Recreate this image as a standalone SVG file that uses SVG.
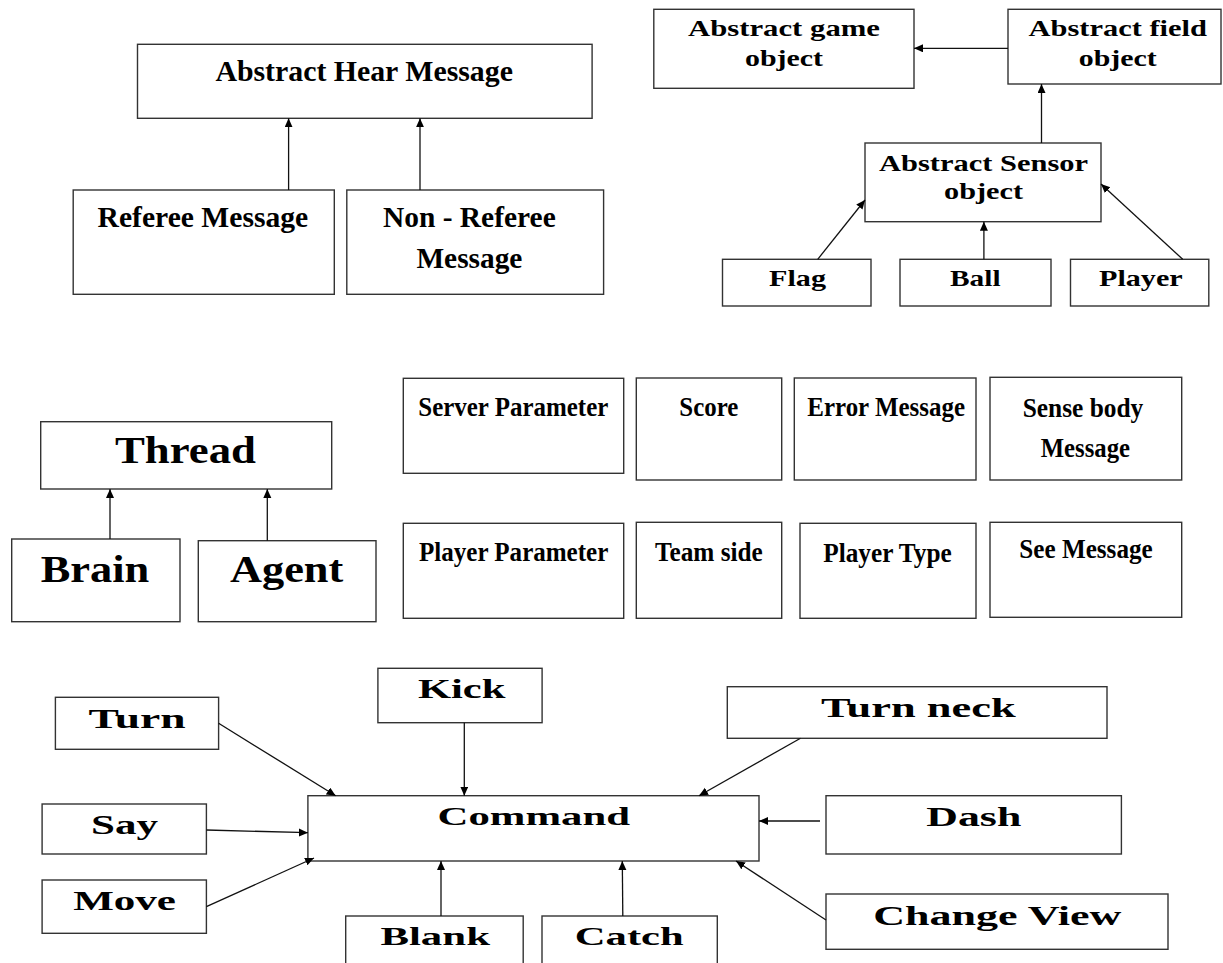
<svg xmlns="http://www.w3.org/2000/svg" width="1223" height="963" viewBox="0 0 1223 963">
<style>
.b{fill:#fff;stroke:#333;stroke-width:1.4}
.t{font-family:"Liberation Serif","Times New Roman",serif;font-weight:bold;fill:#000}
.c line{stroke:#111;stroke-width:1.3;marker-end:url(#ah)}
</style>
<defs>
<marker id="ah" markerUnits="userSpaceOnUse" markerWidth="10" markerHeight="9" refX="9" refY="4" orient="auto">
<path d="M0,0 L9,4 L0,8 z" fill="#000"/>
</marker>
</defs>
<rect width="1223" height="963" fill="#fff"/>
<g id="hear"><rect class="b" x="137.5" y="44.3" width="454.6" height="74"/><text class="t" x="215.4" y="80.7" font-size="30" textLength="297.5" lengthAdjust="spacingAndGlyphs">Abstract Hear Message</text></g>
<g id="referee"><rect class="b" x="73.2" y="190" width="261.1" height="104.3"/><text class="t" x="97.5" y="226.7" font-size="29" textLength="210.7" lengthAdjust="spacingAndGlyphs">Referee Message</text></g>
<g id="nonreferee"><rect class="b" x="346.8" y="190" width="256.8" height="104.3"/><text class="t" x="383" y="226.7" font-size="29" textLength="172.7" lengthAdjust="spacingAndGlyphs">Non - Referee</text><text class="t" x="416.4" y="268.3" font-size="29" textLength="106" lengthAdjust="spacingAndGlyphs">Message</text></g>
<g id="game"><rect class="b" x="653.8" y="9.3" width="260.2" height="79"/><text class="t" x="688" y="36" font-size="23" textLength="192" lengthAdjust="spacingAndGlyphs">Abstract game</text><text class="t" x="745" y="65.7" font-size="23" textLength="78" lengthAdjust="spacingAndGlyphs">object</text></g>
<g id="field"><rect class="b" x="1008" y="9.3" width="213" height="74.7"/><text class="t" x="1028.5" y="36" font-size="23" textLength="178.5" lengthAdjust="spacingAndGlyphs">Abstract field</text><text class="t" x="1078.7" y="65.7" font-size="23" textLength="78" lengthAdjust="spacingAndGlyphs">object</text></g>
<g id="sensor"><rect class="b" x="865" y="143" width="236" height="78.7"/><text class="t" x="879" y="170.7" font-size="23" textLength="209" lengthAdjust="spacingAndGlyphs">Abstract Sensor</text><text class="t" x="944" y="199" font-size="23" textLength="79" lengthAdjust="spacingAndGlyphs">object</text></g>
<g id="flag"><rect class="b" x="722.5" y="259.3" width="148.5" height="46.7"/><text class="t" x="769" y="286" font-size="24" textLength="57" lengthAdjust="spacingAndGlyphs">Flag</text></g>
<g id="ball"><rect class="b" x="900" y="259.3" width="151" height="46.7"/><text class="t" x="950" y="286" font-size="24" textLength="50.6" lengthAdjust="spacingAndGlyphs">Ball</text></g>
<g id="player"><rect class="b" x="1070.5" y="259.3" width="138.3" height="46.7"/><text class="t" x="1099" y="286" font-size="24" textLength="83.7" lengthAdjust="spacingAndGlyphs">Player</text></g>
<g id="thread"><rect class="b" x="40.7" y="421.7" width="291" height="67.3"/><text class="t" x="115" y="463.3" font-size="38" textLength="141" lengthAdjust="spacingAndGlyphs">Thread</text></g>
<g id="brain"><rect class="b" x="11.7" y="539" width="168.3" height="82.7"/><text class="t" x="40.7" y="581.7" font-size="38" textLength="108.6" lengthAdjust="spacingAndGlyphs">Brain</text></g>
<g id="agent"><rect class="b" x="198.3" y="540.7" width="177.7" height="81"/><text class="t" x="230" y="581.7" font-size="38" textLength="113.3" lengthAdjust="spacingAndGlyphs">Agent</text></g>
<g id="serverparam"><rect class="b" x="403.3" y="378.3" width="220.4" height="95"/><text class="t" x="418.3" y="415.7" font-size="27" textLength="190" lengthAdjust="spacingAndGlyphs">Server Parameter</text></g>
<g id="score"><rect class="b" x="636.3" y="378" width="145.4" height="102"/><text class="t" x="679.3" y="415.7" font-size="27" textLength="59" lengthAdjust="spacingAndGlyphs">Score</text></g>
<g id="errormsg"><rect class="b" x="794.3" y="378" width="181.7" height="102"/><text class="t" x="807.3" y="415.7" font-size="27" textLength="157.7" lengthAdjust="spacingAndGlyphs">Error Message</text></g>
<g id="sensebody"><rect class="b" x="990" y="377.3" width="191.7" height="102.7"/><text class="t" x="1022.7" y="416.7" font-size="27" textLength="120.6" lengthAdjust="spacingAndGlyphs">Sense body</text><text class="t" x="1040.7" y="457.3" font-size="27" textLength="89.3" lengthAdjust="spacingAndGlyphs">Message</text></g>
<g id="playerparam"><rect class="b" x="403.3" y="523.3" width="220.4" height="95"/><text class="t" x="419" y="560.7" font-size="27" textLength="189.3" lengthAdjust="spacingAndGlyphs">Player Parameter</text></g>
<g id="teamside"><rect class="b" x="636.3" y="522.3" width="145.4" height="96"/><text class="t" x="655" y="560.7" font-size="27" textLength="107.7" lengthAdjust="spacingAndGlyphs">Team side</text></g>
<g id="playertype"><rect class="b" x="800" y="523.3" width="176" height="95"/><text class="t" x="823.3" y="561.7" font-size="27" textLength="128.4" lengthAdjust="spacingAndGlyphs">Player Type</text></g>
<g id="seemsg"><rect class="b" x="990" y="522.3" width="191.7" height="95"/><text class="t" x="1019.3" y="558.3" font-size="27" textLength="133.4" lengthAdjust="spacingAndGlyphs">See Message</text></g>
<g id="turn"><rect class="b" x="55.4" y="697.3" width="163.2" height="52"/><text class="t" x="88.6" y="728.3" font-size="28" textLength="97.1" lengthAdjust="spacingAndGlyphs">Turn</text></g>
<g id="kick"><rect class="b" x="377.9" y="668.3" width="164.2" height="54.4"/><text class="t" x="417.9" y="698.3" font-size="27" textLength="87.5" lengthAdjust="spacingAndGlyphs">Kick</text></g>
<g id="command"><rect class="b" x="307.9" y="795.7" width="451.1" height="65.3"/><text class="t" x="437.5" y="825" font-size="25" textLength="192.5" lengthAdjust="spacingAndGlyphs">Command</text></g>
<g id="say"><rect class="b" x="42.1" y="804" width="164.3" height="50"/><text class="t" x="91" y="834" font-size="27" textLength="66.9" lengthAdjust="spacingAndGlyphs">Say</text></g>
<g id="move"><rect class="b" x="42.1" y="880" width="164.3" height="53.3"/><text class="t" x="73.2" y="910" font-size="27" textLength="102.8" lengthAdjust="spacingAndGlyphs">Move</text></g>
<g id="blank"><rect class="b" x="345.7" y="916" width="177.5" height="60"/><text class="t" x="380.4" y="945" font-size="26" textLength="109.6" lengthAdjust="spacingAndGlyphs">Blank</text></g>
<g id="catch"><rect class="b" x="542" y="916" width="175.3" height="60"/><text class="t" x="574.8" y="945" font-size="26" textLength="108.9" lengthAdjust="spacingAndGlyphs">Catch</text></g>
<g id="turnneck"><rect class="b" x="727.3" y="686.7" width="379.7" height="51.6"/><text class="t" x="821" y="716.7" font-size="27" textLength="194.6" lengthAdjust="spacingAndGlyphs">Turn neck</text></g>
<g id="dash"><rect class="b" x="826" y="795.7" width="295.4" height="58.3"/><text class="t" x="926.3" y="825.7" font-size="27" textLength="95" lengthAdjust="spacingAndGlyphs">Dash</text></g>
<g id="changeview"><rect class="b" x="826" y="894" width="342" height="55.3"/><text class="t" x="873.2" y="925" font-size="27" textLength="248.2" lengthAdjust="spacingAndGlyphs">Change View</text></g>
<g id="connectors" class="c">
<line x1="288.6" y1="190" x2="288.6" y2="118.3"/>
<line x1="420" y1="190" x2="420" y2="118.3"/>
<line x1="1008" y1="48.3" x2="914" y2="48.3"/>
<line x1="1041.5" y1="143" x2="1041.5" y2="84"/>
<line x1="817.7" y1="259.3" x2="865" y2="200"/>
<line x1="983.9" y1="259.3" x2="983.9" y2="221.7"/>
<line x1="1182.7" y1="259.3" x2="1101" y2="184"/>
<line x1="110" y1="539" x2="110" y2="489"/>
<line x1="267.3" y1="540.7" x2="267.3" y2="489"/>
<line x1="218.6" y1="723.3" x2="335.7" y2="795.7"/>
<line x1="464.3" y1="722.7" x2="464.3" y2="795.7"/>
<line x1="206.4" y1="830" x2="307.9" y2="832.7"/>
<line x1="206.4" y1="906.7" x2="314" y2="858"/>
<line x1="441" y1="916" x2="441" y2="861"/>
<line x1="622.8" y1="916" x2="622.3" y2="861"/>
<line x1="800.5" y1="738.3" x2="699" y2="795.7"/>
<line x1="820" y1="821" x2="759" y2="821"/>
<line x1="826" y1="920" x2="736" y2="861"/>
</g>
</svg>
